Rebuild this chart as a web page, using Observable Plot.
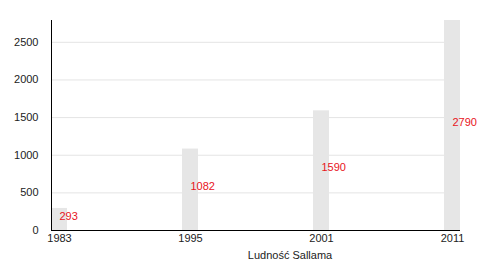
<!DOCTYPE html>
<html>
<head>
<meta charset="utf-8">
<script src="https://cdn.jsdelivr.net/npm/d3@7"></script>
<script src="https://cdn.jsdelivr.net/npm/@observablehq/plot@0.6"></script>
<style>
  html, body { margin: 0; padding: 0; background: #fff; }
  svg { font-family: "Liberation Sans", Arial, sans-serif; }
</style>
</head>
<body>
<div id="chart"></div>
<script>
const years = ["1983", "1995", "2001", "2011"];
const population = [293, 1082, 1590, 2790];
const yTicks = [0, 500, 1000, 1500, 2000, 2500];
const xTitle = "Ludność Sallama";

const data = years.map((y, i) => ({year: y, value: population[i]}));

const chart = Plot.plot({
  width: 500,
  height: 270,
  marginLeft: 51,
  marginRight: 40,
  marginTop: 20,
  marginBottom: 40,
  style: {fontFamily: "Liberation Sans, Arial, sans-serif", fontSize: "11px", color: "#222"},
  x: {type: "band", domain: years, paddingInner: 0.878, paddingOuter: 0, align: 0},
  y: {domain: [0, 2790]},
  marks: [
    Plot.gridY(yTicks, {stroke: "#e4e4e4", strokeOpacity: 1}),
    Plot.barY(data, {x: "year", y: "value", fill: "#e6e6e6"}),
    Plot.axisY(yTicks, {tickSize: 0, tickPadding: 13, fontSize: 11, label: null, tickFormat: d3.format("d")}),
    Plot.axisX({tickSize: 0, tickPadding: 4, fontSize: 11, label: null}),
    Plot.frame({anchor: "left", stroke: "#000"}),
    Plot.ruleY([0], {stroke: "#000"}),
    Plot.text(data, {x: "year", y: d => d.value / 2, text: d => String(d.value), textAnchor: "start", dy: -3, dx: 0, fill: "#e8141c", fontSize: 11}),
    Plot.text([xTitle], {frameAnchor: "bottom", dx: 34, dy: 28, fill: "#222", fontSize: 11})
  ]
});
document.getElementById("chart").appendChild(chart);
</script>
</body>
</html>
